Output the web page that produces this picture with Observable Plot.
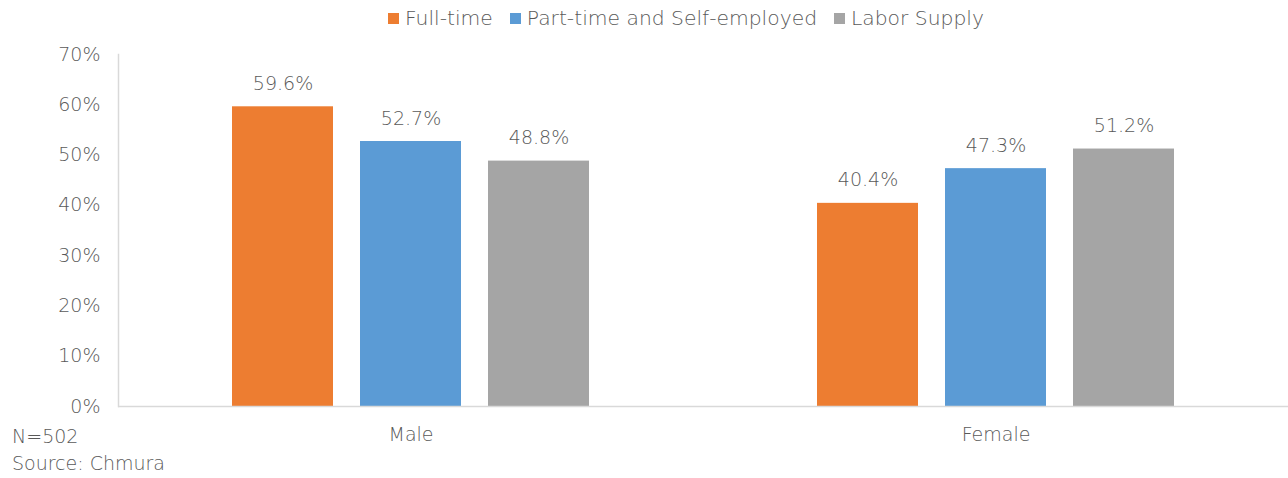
<!DOCTYPE html>
<html><head><meta charset="utf-8">
<script src="https://cdn.jsdelivr.net/npm/d3@7"></script>
<script src="https://cdn.jsdelivr.net/npm/@observablehq/plot@0.6"></script>
<style>
body{margin:0;background:#fff;font-family:"Century Gothic","DejaVu Sans",sans-serif;color:#595959}
#wrap{position:relative;width:1288px;height:478px;overflow:hidden}
#legend{position:absolute;top:0;left:388px;height:36px;display:flex;align-items:center;font-size:20.3px;white-space:nowrap;font-weight:300}
#legend .item{display:flex;align-items:center;margin-right:17px}
#legend .sw{width:11px;height:11px;margin-right:6px}
#chart{position:absolute;top:36px;left:0}
#chart svg text{font-weight:300}
#caption{position:absolute;top:423px;left:12px;font-size:19px;line-height:27px;font-weight:300}
</style></head><body>
<div id="wrap">
<div id="legend"></div>
<div id="chart"></div>
<div id="caption">N=502<br>Source: Chmura</div>
</div>
<script>
const groups = ["Male", "Female"];
const series = ["Full-time", "Part-time and Self-employed", "Labor Supply"];
const maleValues = [0.596, 0.527, 0.488];
const femaleValues = [0.404, 0.473, 0.512];
const colors = ["#ED7D31", "#5B9BD5", "#A5A5A5"];
const yTicks = [0, 0.1, 0.2, 0.3, 0.4, 0.5, 0.6, 0.7];

const valuesByGroup = {Male: maleValues, Female: femaleValues};
const data = groups.flatMap(g => series.map((s, i) => ({group: g, series: s, value: valuesByGroup[g][i]})));

const legend = document.getElementById("legend");
series.forEach((s, i) => {
  const it = document.createElement("div");
  it.className = "item";
  const sw = document.createElement("div");
  sw.className = "sw";
  sw.style.background = colors[i];
  const t = document.createElement("span");
  t.textContent = s;
  it.appendChild(sw); it.appendChild(t);
  legend.appendChild(it);
});

const font = '"Century Gothic","DejaVu Sans",sans-serif';
const chart = Plot.plot({
  width: 1288,
  height: 420,
  marginTop: 18,
  marginBottom: 50,
  marginLeft: 118,
  marginRight: 0,
  style: {fontFamily: font, fontSize: "19px", color: "#595959", background: "#fff"},
  fx: {domain: groups, padding: 0, label: null},
  x: {domain: series, paddingInner: 0.209, paddingOuter: 0.872, axis: null},
  y: {domain: [0, 0.7], axis: null},
  color: {domain: series, range: colors},
  marks: [
    Plot.barY(data, {fx: "group", x: "series", y: "value", fill: "series"}),
    Plot.text(data, {fx: "group", x: "series", y: "value", text: d => d3.format(".1%")(d.value), dy: -23, fill: "#595959", fontSize: 19}),
    Plot.ruleY([0], {stroke: "#d9d9d9", strokeWidth: 1.5}),
    Plot.frame({anchor: "left", stroke: "#d9d9d9", strokeWidth: 1.5, facetAnchor: "left"}),
    Plot.axisY({ticks: yTicks, tickFormat: d3.format(".0%"), tickSize: 0, tickPadding: 18, label: null, fill: "#595959", fontSize: 19}),
    Plot.axisFx({anchor: "bottom", tickSize: 0, tickPadding: 21, label: null, fill: "#595959", fontSize: 19})
  ]
});
document.getElementById("chart").appendChild(chart);
</script>
</body></html>
